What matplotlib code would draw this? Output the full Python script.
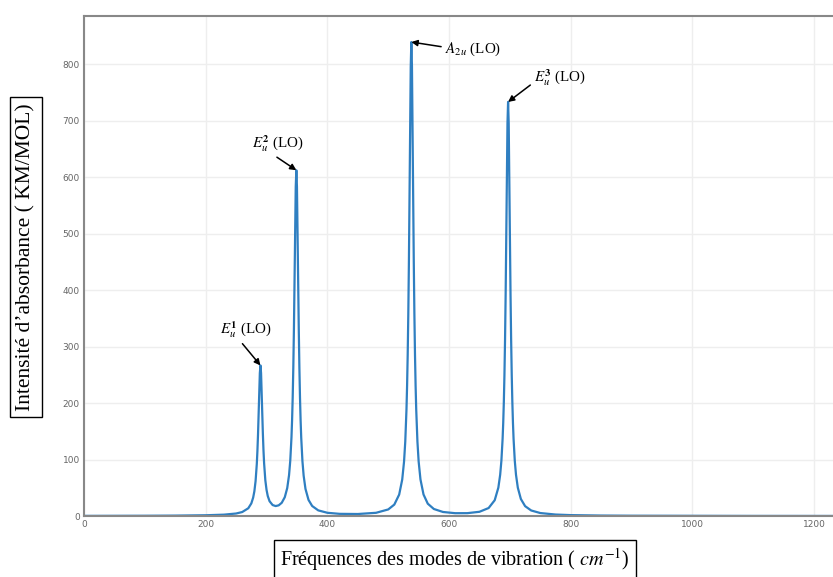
import matplotlib
matplotlib.use("Agg")
import matplotlib.pyplot as plt
import numpy as np

# ---- data ----
frequency = [0, 50, 100, 150, 200, 230, 250, 260, 270, 275, 278, 280, 282, 284, 285,
             286, 287, 288, 289, 290, 291, 292, 293, 294, 295, 296, 298, 300, 302, 305,
             310, 315, 320, 325, 330, 334, 337, 339, 341, 342, 343, 344, 345, 346, 347,
             348, 349, 350, 351, 352, 353, 354, 355, 356, 357, 359, 361, 364, 369, 375,
             385, 400, 420, 450, 480, 500, 510, 518, 523, 526, 528, 530, 531, 532, 533,
             534, 535, 536, 537, 538, 539, 540, 541, 542, 543, 544, 545, 546, 548, 550,
             553, 558, 565, 575, 590, 610, 630, 650, 665, 675, 681, 684, 686, 688, 689,
             690, 691, 692, 693, 694, 695, 696, 697, 698, 699, 700, 701, 702, 703, 704,
             705, 706, 708, 710, 713, 718, 725, 735, 750, 775, 800, 850, 900, 1000, 1100,
             1200, 1240]
intensity = [0.23, 0.31, 0.44, 0.69, 1.31, 2.38, 4.41, 6.99, 13.7, 22.3, 32.5, 43.7, 61.8, 92.2, 114.9,
             144.1, 180.1, 219.5, 252.9, 266.5, 253.1, 219.9, 180.7, 145.0, 115.9, 93.5, 63.5, 46.3, 35.4, 26.1,
             19.4, 17.6, 18.9, 23.4, 33.3, 49.4, 72.3, 98.0, 139.5, 170.0, 209.9, 262.4, 330.2, 413.7, 505.1,
             582.6, 612.0, 582.5, 505.0, 413.4, 329.9, 262.0, 209.4, 169.4, 138.8, 97.1, 71.3, 48.0, 28.5, 17.7,
             9.95, 5.68, 3.82, 3.52, 5.66, 11.6, 20.2, 37.9, 64.5, 96.3, 131.6, 188.7, 230.5, 285.2, 357.2,
             450.2, 564.5, 689.8, 795.9, 838.9, 796.0, 689.9, 564.6, 450.3, 357.3, 285.3, 230.6, 188.8, 131.7, 96.4,
             64.7, 38.1, 21.8, 12.4, 7.12, 4.97, 5.02, 7.48, 14.1, 27.9, 50.2, 73.1, 97.9, 136.9, 164.9,
             201.5, 249.3, 312.1, 393.3, 493.2, 602.7, 695.3, 732.9, 695.3, 602.6, 493.1, 393.2, 312.0, 249.2, 201.4,
             164.8, 136.8, 97.8, 73.0, 50.1, 30.1, 17.4, 9.75, 5.23, 2.58, 1.57, 0.79, 0.50, 0.26, 0.16,
             0.11, 0.10]

peak_freqs = [290, 349, 538, 697]
peak_labels = [r"$E_u^{\mathbf{1}}$ (LO)", r"$E_u^{\mathbf{2}}$ (LO)",
               r"$A_{2u}$ (LO)", r"$E_u^{\mathbf{3}}$ (LO)"]
x_ticks = [0, 200, 400, 600, 800, 1000, 1200]
y_ticks = [0, 100, 200, 300, 400, 500, 600, 700, 800]

# ---- style ----
plt.rcParams["mathtext.fontset"] = "stix"
serif = ["Liberation Serif", "DejaVu Serif"]

fig = plt.figure(figsize=(8.33, 5.77), dpi=100)
ax = fig.add_axes([84 / 833, 61 / 577, 1 - 84 / 833, 500 / 577])

ax.plot(frequency, intensity, color="#2f7fc1", lw=1.6, solid_joinstyle="round")
ax.set_xlim(0, 1231)
ax.set_ylim(0, 885)
ax.set_xticks(x_ticks)
ax.set_yticks(y_ticks)
ax.grid(True, color="#eeeeee", lw=1)
ax.set_axisbelow(True)
ax.tick_params(length=0, labelsize=6.5, labelcolor="#666666", pad=3)
for s in ["left", "bottom", "top"]:
    ax.spines[s].set_color("#888888")
    ax.spines[s].set_linewidth(1.5)
ax.spines["right"].set_visible(False)

# annotations: (offset of text centre in pixels, arrow start relpos)
offsets = [(-15, 36), (-18, 27), (62, -7), (52, 24)]
relposes = [(0.38, 0.0), (0.37, 0.0), (0.0, 0.6), (0.0, 0.3)]
for f, lab, off, rp in zip(peak_freqs, peak_labels, offsets, relposes):
    yv = intensity[frequency.index(f)]
    ax.annotate(lab, xy=(f, yv), xytext=off, textcoords="offset pixels",
                ha="center", va="center", fontsize=10.8, family=serif,
                arrowprops=dict(arrowstyle="-|>", color="black", lw=1.1,
                                mutation_scale=9, shrinkA=1, shrinkB=0, relpos=rp))

# boxed axis labels
fig.text(26 / 833, 1 - 257 / 577, "Intensité d’absorbance ( KM/MOL)", rotation=90,
         ha="center", va="center", fontsize=15.5, family=serif,
         bbox=dict(boxstyle="square,pad=0.3", fc="white", ec="black", lw=1))
fig.text(455 / 833, 1 - 560 / 577, r"Fréquences des modes de vibration ( $cm^{-1}$)",
         ha="center", va="center", fontsize=14.5, family=serif,
         bbox=dict(boxstyle="square,pad=0.3", fc="white", ec="black", lw=1))

fig.savefig("out.png", dpi=100)
